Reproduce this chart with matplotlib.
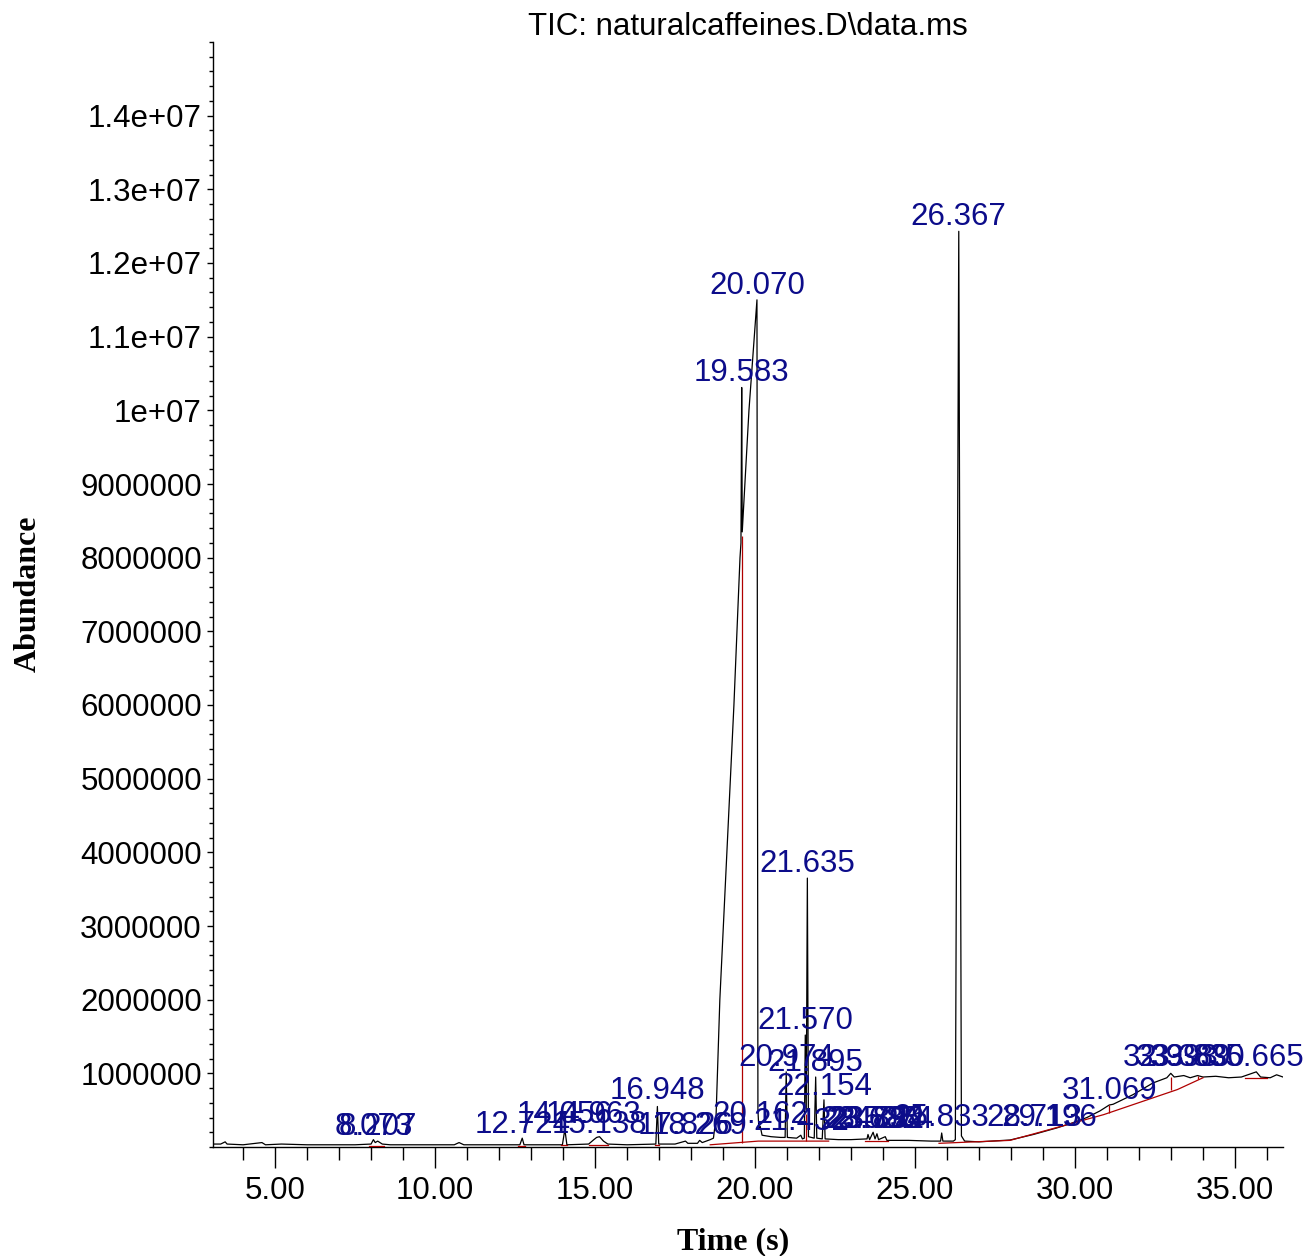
import matplotlib.pyplot as plt
from matplotlib.ticker import MultipleLocator

# TIC trace (time, abundance in millions)
trace_t = [3.06, 3.30, 3.44, 3.50, 4.00, 4.59, 4.70, 5.20, 6.00, 6.80, 7.50, 8.00,
           8.073, 8.13, 8.207, 8.35, 8.60, 9.50, 10.60, 10.75, 10.90, 12.00, 12.65,
           12.724, 12.78, 13.50, 13.98, 14.056, 14.12, 14.80, 14.963, 15.05, 15.138,
           15.263, 15.40, 16.00, 16.90, 16.948, 16.99, 17.50, 17.826, 17.90, 18.20,
           18.269, 18.35, 18.60, 18.70, 18.78, 18.90, 19.12, 19.34, 19.53, 19.56,
           19.583, 19.60, 19.81, 20.06, 20.09, 20.12, 20.162, 20.22, 20.50,
           20.80, 20.94, 20.974, 21.01, 21.30, 21.43, 21.48, 21.54, 21.570, 21.60,
           21.635, 21.67, 21.85, 21.895, 21.93, 22.10, 22.154, 22.19, 22.60, 23.00,
           23.50, 23.53, 23.58, 23.69, 23.75, 23.81, 23.86, 24.07, 24.12, 24.80,
           25.50, 25.80, 25.833, 25.87, 26.20, 26.26, 26.367, 26.45, 26.55, 27.00,
           27.97, 28.70, 29.44, 29.94, 30.37, 30.78, 31.069, 31.19, 31.81, 32.44,
           32.87, 32.993, 33.10, 33.40, 33.60, 33.83, 34.00, 34.40, 34.80, 35.20,
           35.665, 35.80, 36.10, 36.30, 36.50]
trace_a = [0.04, 0.04, 0.07, 0.04, 0.03, 0.06, 0.03, 0.04, 0.03, 0.03, 0.03, 0.04,
           0.10, 0.06, 0.08, 0.04, 0.03, 0.03, 0.03, 0.06, 0.03, 0.03, 0.03,
           0.12, 0.03, 0.03, 0.03, 0.24, 0.03, 0.04, 0.10, 0.13, 0.14,
           0.08, 0.04, 0.03, 0.04, 0.55, 0.04, 0.04, 0.08, 0.05, 0.05,
           0.09, 0.06, 0.10, 0.12, 0.40, 2.00, 4.00, 6.00, 8.00, 8.20,
           10.31, 8.35, 10.00, 11.50, 0.50, 0.25, 0.28, 0.16, 0.14,
           0.13, 0.13, 1.02, 0.13, 0.12, 0.16, 0.11, 0.12, 1.52, 0.50,
           3.65, 0.14, 0.12, 0.95, 0.12, 0.11, 0.64, 0.11, 0.10, 0.10,
           0.11, 0.17, 0.10, 0.20, 0.11, 0.18, 0.10, 0.14, 0.09, 0.09,
           0.08, 0.08, 0.19, 0.08, 0.08, 0.10, 12.43, 0.15, 0.08, 0.07,
           0.095, 0.17, 0.26, 0.33, 0.40, 0.49, 0.57, 0.58, 0.71, 0.87,
           0.94, 1.00, 0.95, 0.97, 0.94, 0.97, 0.95, 0.96, 0.94, 0.95,
           1.02, 0.95, 0.94, 0.98, 0.95]

# integrated peaks: label, retention time, apex abundance (millions)
peak_names = ["8.073", "8.207", "12.724", "14.056", "14.963", "15.138", "16.948",
              "17.826", "18.269", "19.583", "20.070", "20.162", "20.974", "21.432",
              "21.570", "21.635", "21.895", "22.154", "23.526", "23.685", "23.792",
              "23.834", "24.074", "25.833", "26.367", "28.713", "29.196", "31.069",
              "32.993", "33.389", "33.830", "35.665"]
peak_t = [float(n) for n in peak_names]
peak_a = [0.08, 0.08, 0.10, 0.245, 0.245, 0.10, 0.57,
          0.09, 0.09, 10.31, 11.50, 0.245, 1.02, 0.14,
          1.52, 3.65, 0.95, 0.62, 0.17, 0.17, 0.17,
          0.17, 0.17, 0.20, 12.43, 0.20, 0.20, 0.57,
          1.02, 1.02, 1.02, 1.02]

# integration baselines (red)
base_segments = [
    ([7.95, 8.40], [0.02, 0.02]),
    ([12.60, 12.80], [0.02, 0.02]),
    ([13.95, 14.12], [0.03, 0.03]),
    ([14.80, 15.40], [0.03, 0.03]),
    ([16.88, 17.00], [0.03, 0.03]),
    ([18.60, 20.10, 22.30], [0.03, 0.08, 0.08]),
    ([23.45, 24.15], [0.08, 0.08]),
    ([25.75, 27.97, 30.90, 33.20, 34.00], [0.05, 0.09, 0.44, 0.78, 0.94]),
    ([35.30, 36.00], [0.94, 0.94]),
]
drop_t = [19.59, 21.60, 31.069, 32.993, 33.83]
drop_lo = [0.05, 0.08, 0.46, 0.77, 0.92]
drop_hi = [8.30, 0.45, 0.57, 0.95, 0.97]

ytick_vals = [1e6 * k for k in range(1, 15)]
ytick_labels = ["1000000", "2000000", "3000000", "4000000", "5000000", "6000000",
                "7000000", "8000000", "9000000", "1e+07", "1.1e+07", "1.2e+07",
                "1.3e+07", "1.4e+07"]
xtick_vals = [5, 10, 15, 20, 25, 30, 35]
xtick_labels = ["5.00", "10.00", "15.00", "20.00", "25.00", "30.00", "35.00"]

sans = "Liberation Sans"
serif = "Liberation Serif"
blue = "#0c0c8a"
red = "#b00000"

fig = plt.figure(figsize=(13.07, 12.56), dpi=100)
ax = fig.add_axes([213 / 1307, 1 - 1147 / 1256, 1070 / 1307, 1105 / 1256])

ax.plot(trace_t, [a * 1e6 for a in trace_a], color="black", lw=0.9, zorder=2)

for xs, ys in base_segments:
    ax.plot(xs, [y * 1e6 for y in ys], color=red, lw=0.9, zorder=3)
ax.vlines(drop_t, [v * 1e6 for v in drop_lo], [v * 1e6 for v in drop_hi],
          color=red, lw=0.9, zorder=3)

for name, t, a in zip(peak_names, peak_t, peak_a):
    ax.annotate(name, (t, a * 1e6), xytext=(0, -0.5), textcoords="offset points",
                ha="center", va="bottom", color=blue, fontsize=22.5,
                family=sans, zorder=4, annotation_clip=False)

ax.set_xlim(3.06, 36.5)
ax.set_ylim(0, 1.5e7)
ax.set_xticks(xtick_vals)
ax.set_xticklabels(xtick_labels, family=sans, fontsize=22.5)
ax.xaxis.set_minor_locator(MultipleLocator(1))
ax.set_yticks(ytick_vals)
ax.set_yticklabels(ytick_labels, family=sans, fontsize=22.5)
ax.yaxis.set_minor_locator(MultipleLocator(2e5))
ax.tick_params(axis="x", which="major", length=15, width=1, pad=6)
ax.tick_params(axis="x", which="minor", length=9, width=1)
ax.tick_params(axis="y", which="major", length=4, width=1, pad=4)
ax.tick_params(axis="y", which="minor", length=3, width=1)

for side in ["top", "right"]:
    ax.spines[side].set_visible(False)
for side in ["left", "bottom"]:
    ax.spines[side].set_linewidth(1)

ax.set_title("TIC: naturalcaffeines.D\\data.ms", family=sans, fontsize=22.5, pad=4)
fig.text(28 / 1307, 1 - 594 / 1256, "Abundance", rotation=90, ha="center",
         va="center", family=serif, weight="bold", fontsize=23)
fig.text(733 / 1307, 1 - 1242 / 1256, "Time (s)", ha="center", va="center",
         family=serif, weight="bold", fontsize=23)

fig.savefig("out.png", dpi=100)
